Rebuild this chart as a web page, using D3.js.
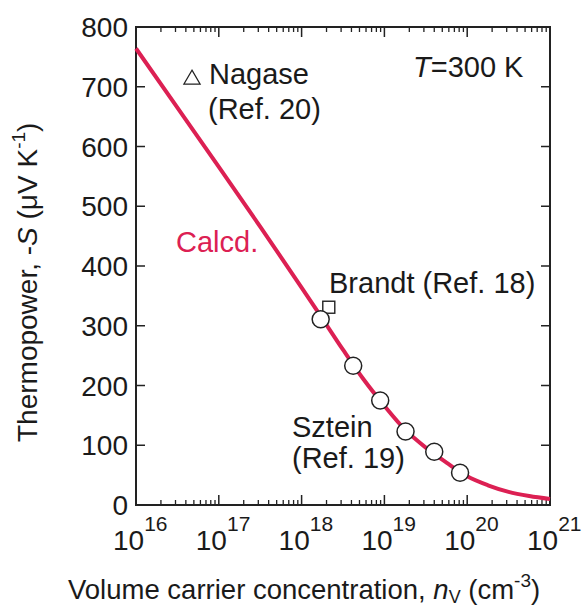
<!DOCTYPE html>
<html>
<head>
<meta charset="utf-8">
<script src="https://cdn.jsdelivr.net/npm/d3@7"></script>
<style>
body { margin: 0; background: #fff; }
svg { display: block; font-family: "Liberation Sans", Arial, sans-serif; }
</style>
</head>
<body>
<script>
// calculated curve (Calcd.)
var calcN = [1e16, 3.16e16, 1e17, 3.16e17, 1e18, 1.78e18, 3.16e18, 5.62e18, 1e19,
             1.78e19, 3.16e19, 5.62e19, 1e20, 1.78e20, 3.16e20, 5.62e20, 1e21];
var calcS = [764, 665, 566, 466, 364, 312, 260, 210, 166, 126, 96, 71, 48, 33, 22, 15, 10];

// Sztein (Ref. 19)
var szteinN = [1.7e18, 4.2e18, 8.9e18, 1.8e19, 4.0e19, 8.2e19];
var szteinS = [311, 233, 175, 123, 89, 54];

// Brandt (Ref. 18)
var brandtN = [2.13e18];
var brandtS = [331];

var yTicks = [0, 100, 200, 300, 400, 500, 600, 700, 800];
var xDecades = [16, 17, 18, 19, 20, 21];

var red = "#dc2053";

var svg = d3.select("body").append("svg")
    .attr("width", 582)
    .attr("height", 609);

var x = d3.scaleLog().domain([1e16, 1e21]).range([136, 550]);
var y = d3.scaleLinear().domain([0, 800]).range([505, 27]);

// minor/major ticks on log axis
var xMinor = [];
xDecades.forEach(function(e){
	if(e == 21) return;
	for(var k = 2; k <= 9; k++) xMinor.push(k * Math.pow(10, e));
});
var xMajor = xDecades.slice(1, 5).map(function(e){ return Math.pow(10, e); });

var axisG = svg.append("g").attr("stroke", "#222");

axisG.selectAll(".xmin").data(xMinor).enter().append("path")
	.attr("stroke-width", 1.3)
	.attr("d", function(d){ var px = x(d);
		return "M" + px + ",505v-5M" + px + ",27v5"; });
axisG.selectAll(".xmaj").data(xMajor).enter().append("path")
	.attr("stroke-width", 1.5)
	.attr("d", function(d){ var px = x(d);
		return "M" + px + ",505v-10M" + px + ",27v10"; });
axisG.selectAll(".ytk").data(yTicks.slice(1, 8)).enter().append("path")
	.attr("stroke-width", 1.5)
	.attr("d", function(d){ var py = y(d);
		return "M136," + py + "h9M550," + py + "h-9"; });

axisG.append("rect")
	.attr("x", 136).attr("y", 27)
	.attr("width", 414).attr("height", 478)
	.attr("fill", "none")
	.attr("stroke-width", 2);

// y tick labels
svg.selectAll(".ylab").data(yTicks).enter().append("text")
	.attr("x", 128)
	.attr("y", function(d){ return y(d); })
	.attr("dy", "0.36em")
	.attr("text-anchor", "end")
	.attr("font-size", 28)
	.attr("fill", "#1a1a1a")
	.text(function(d){ return d; });

// x tick labels 10^n
var xl = svg.selectAll(".xlab").data(xDecades).enter().append("text")
	.attr("x", function(d){ return x(Math.pow(10, d)) - 23; })
	.attr("y", 550)
	.attr("font-size", 28)
	.attr("fill", "#1a1a1a");
xl.append("tspan").text("10");
xl.append("tspan").attr("font-size", 21).attr("dy", -19).text(function(d){ return d; });

// axis titles
var xt = svg.append("text")
	.attr("x", 68).attr("y", 599)
	.attr("font-size", 27.5).attr("fill", "#1a1a1a");
xt.append("tspan").text("Volume carrier concentration, ");
xt.append("tspan").attr("font-style", "italic").text("n");
xt.append("tspan").attr("font-size", 18).attr("dy", 4).text("V");
xt.append("tspan").attr("dy", -4).text(" (cm");
xt.append("tspan").attr("font-size", 19).attr("dy", -12).text("-3");
xt.append("tspan").attr("dy", 12).text(")");

var yt = svg.append("text")
	.attr("transform", "translate(37,442) rotate(-90)")
	.attr("font-size", 28).attr("fill", "#1a1a1a");
yt.append("tspan").text("Thermopower, -");
yt.append("tspan").attr("font-style", "italic").text("S");
yt.append("tspan").text(" (\u03bcV K");
yt.append("tspan").attr("font-size", 19).attr("dy", -12).text("-1");
yt.append("tspan").attr("dy", 12).text(")");

// calculated curve
var line = d3.line()
	.x(function(d){ return x(d[0]); })
	.y(function(d){ return y(d[1]); })
	.curve(d3.curveMonotoneX);

svg.append("path")
	.datum(d3.zip(calcN, calcS))
	.attr("d", line)
	.attr("fill", "none")
	.attr("stroke", red)
	.attr("stroke-width", 4);

// Brandt square
svg.selectAll(".sq").data(d3.zip(brandtN, brandtS)).enter().append("rect")
	.attr("x", function(d){ return x(d[0]) - 6; })
	.attr("y", function(d){ return y(d[1]) - 6; })
	.attr("width", 12).attr("height", 12)
	.attr("fill", "#fff").attr("stroke", "#222").attr("stroke-width", 1.4);

// Sztein circles
svg.selectAll(".ci").data(d3.zip(szteinN, szteinS)).enter().append("circle")
	.attr("cx", function(d){ return x(d[0]); })
	.attr("cy", function(d){ return y(d[1]); })
	.attr("r", 8.5)
	.attr("fill", "#fff").attr("stroke", "#222").attr("stroke-width", 1.5);

// annotations
svg.append("path")
	.attr("d", d3.symbol().type(d3.symbolTriangle).size(115))
	.attr("transform", "translate(192,79.5)")
	.attr("fill", "none").attr("stroke", "#222").attr("stroke-width", 1.2);

function note(tx, ty, str, col){
	return svg.append("text").attr("x", tx).attr("y", ty)
		.attr("font-size", 29).attr("fill", col || "#1a1a1a").text(str);
}
note(209, 84, "Nagase");
note(208, 119, "(Ref. 20)");
note(176, 252, "Calcd.", red);
note(329, 293, "Brandt (Ref. 18)");
note(292, 437, "Sztein");
note(292, 468, "(Ref. 19)");

var tt = svg.append("text").attr("x", 413).attr("y", 77)
	.attr("font-size", 29).attr("fill", "#1a1a1a");
tt.append("tspan").attr("font-style", "italic").text("T");
tt.append("tspan").text("=300 K");
</script>
</body>
</html>
